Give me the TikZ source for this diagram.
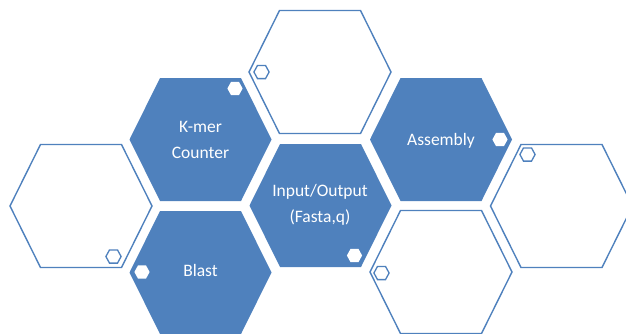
\documentclass[tikz,border=0pt]{standalone}
\usepackage{fontspec}
\setmainfont{Carlito}
\definecolor{hexblue}{RGB}{79,129,189}
\tikzset{
  bighex/.pic={\path[pic actions] (-71,0) -- (-40.5,-61.5) -- (40.5,-61.5) -- (71,0) -- (40.5,61.5) -- (-40.5,61.5) -- cycle;},
  smallhex/.pic={\path[pic actions] (-7.6,0) -- (-4,-6.6) -- (4,-6.6) -- (7.6,0) -- (4,6.6) -- (-4,6.6) -- cycle;},
  filledhex/.style={fill=hexblue, draw=none},
  emptyhex/.style={draw=hexblue, fill=white, line width=1.4pt, line join=miter},
  whitedot/.style={fill=white, draw=none},
  outlinedot/.style={draw=hexblue, fill=none, line width=1.3pt},
  lbl/.style={text=white, align=center, font=\fontsize{17.5}{26}\selectfont, inner sep=0pt}
}
\begin{document}
\begin{tikzpicture}[x=1pt,y=-1pt]
\useasboundingbox (0,0) rectangle (626,333);
\clip (0,0) rectangle (626,333);
% empty hexagons
\pic[emptyhex] at (320,72) {bighex};
\pic[emptyhex] at (81,206) {bighex};
\pic[emptyhex] at (561.5,206) {bighex};
\pic[emptyhex] at (441,272) {bighex};
% filled hexagons
\pic[filledhex] at (200.5,139.5) {bighex};
\pic[filledhex] at (441,139.5) {bighex};
\pic[filledhex] at (320.5,205.5) {bighex};
\pic[filledhex] at (200.5,272.5) {bighex};
% small hexagons
\pic[outlinedot] at (261.5,72) {smallhex};
\pic[whitedot] at (235,88.5) {smallhex};
\pic[whitedot] at (500,139.5) {smallhex};
\pic[outlinedot] at (527.5,154.5) {smallhex};
\pic[outlinedot] at (113.5,256.5) {smallhex};
\pic[whitedot] at (142,272) {smallhex};
\pic[whitedot] at (354.5,255.5) {smallhex};
\pic[outlinedot] at (381.5,273) {smallhex};
% labels
\node[lbl] (kmer) at (200.5,140) {K-mer\\Counter};
\node[lbl] (io) at (320,205) {Input/Output\\(Fasta,q)};
\node[lbl, anchor=base] (asm) at (441,145.7) {Assembly};
\node[lbl, anchor=base] (blast) at (200.5,276.7) {Blast};
\end{tikzpicture}
\end{document}
